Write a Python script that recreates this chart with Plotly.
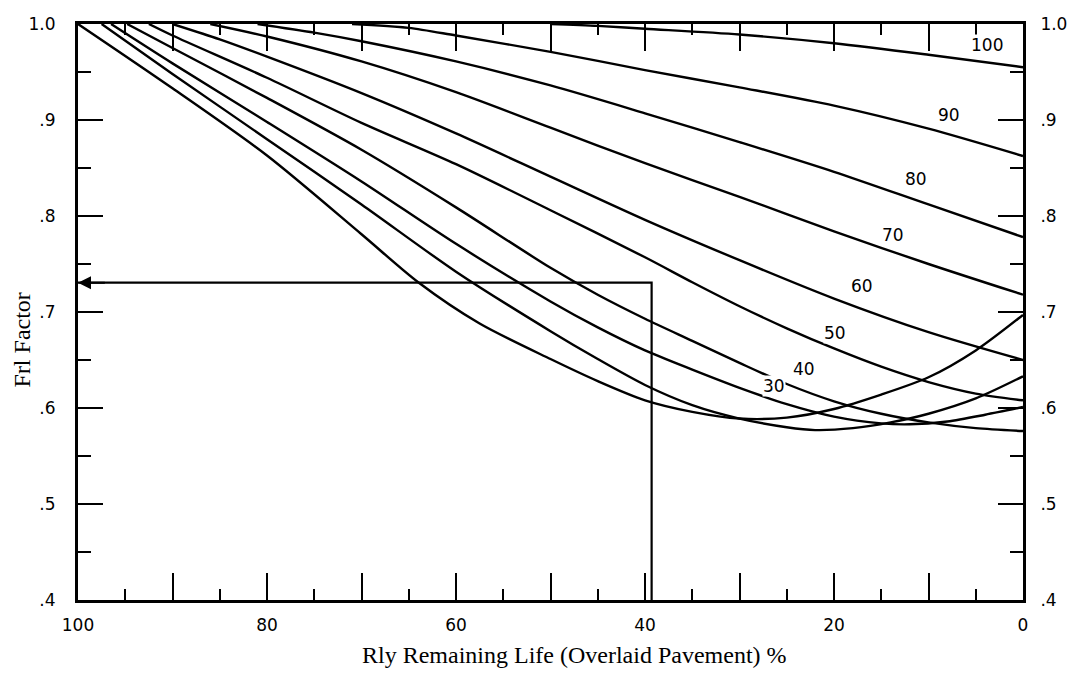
import plotly.graph_objects as go

# ---- data ----
# x: Rly remaining life of overlaid pavement (%), y: Frl factor
c100_x = [50, 45, 40, 30, 20, 10, 0]
c100_y = [1.0, 0.998, 0.995, 0.989, 0.980, 0.968, 0.955]

c90_x = [71, 65, 60, 50, 40, 30, 20, 10, 0]
c90_y = [1.0, 0.996, 0.988, 0.971, 0.952, 0.934, 0.915, 0.891, 0.8625]

c80_x = [81, 75, 70, 60, 50, 40, 30, 20, 10, 0]
c80_y = [1.0, 0.991, 0.982, 0.961, 0.936, 0.907, 0.877, 0.846, 0.812, 0.778]

c70_x = [86, 80, 70, 60, 50, 40, 30, 20, 10, 0]
c70_y = [1.0, 0.987, 0.961, 0.929, 0.892, 0.855, 0.820, 0.784, 0.750, 0.718]

c60_x = [90, 85, 80, 70, 60, 50, 40, 30, 20, 10, 0]
c60_y = [1.0, 0.984, 0.966, 0.928, 0.886, 0.841, 0.796, 0.754, 0.714, 0.679, 0.65]

c50_x = [92.5, 90, 80, 70, 60, 50, 40, 35, 30, 25, 20, 15, 10, 5, 0]
c50_y = [1.0, 0.988, 0.944, 0.897, 0.854, 0.806, 0.757, 0.731, 0.706, 0.683, 0.662, 0.643, 0.627, 0.615, 0.608]

c40_x = [94.8, 90, 80, 70, 60, 50, 45, 40, 35, 30, 25, 20, 15, 10, 5, 0]
c40_y = [1.0, 0.975, 0.923, 0.869, 0.809, 0.746, 0.718, 0.693, 0.670, 0.647, 0.625, 0.607, 0.594, 0.585, 0.579, 0.576]

c30_x = [96.5, 90, 80, 70, 60, 50, 45, 40, 35, 30, 25, 20, 15, 12, 8, 4, 0]
c30_y = [1.0, 0.959, 0.898, 0.836, 0.771, 0.711, 0.684, 0.660, 0.640, 0.621, 0.604, 0.591, 0.584, 0.583, 0.586, 0.593, 0.601]

c20_x = [97.5, 90, 80, 70, 60, 50, 45, 40, 35, 30, 25, 22, 18, 14, 10, 5, 0]
c20_y = [1.0, 0.948, 0.880, 0.812, 0.742, 0.680, 0.651, 0.624, 0.603, 0.589, 0.580, 0.577, 0.579, 0.585, 0.594, 0.610, 0.633]

c10_x = [100, 90, 80, 70, 64, 57.5, 50, 45, 40, 35, 30, 25, 20, 15, 10, 5, 0]
c10_y = [1.0, 0.933, 0.863, 0.781, 0.731, 0.688, 0.651, 0.628, 0.608, 0.596, 0.589, 0.590, 0.599, 0.614, 0.632, 0.660, 0.697]

# example reading lines
read_x = [100, 39.3, 39.3]
read_y = [0.7305, 0.7305, 0.4]

# curve labels (text, x, y)
label_text = ["100", "90", "80", "70", "60", "50", "40", "30"]
label_x = [3.8, 7.8, 11.3, 13.8, 17.0, 19.9, 23.2, 26.4]
label_y = [0.978, 0.905, 0.8385, 0.780, 0.727, 0.678, 0.641, 0.623]

x_tickvals = [100, 80, 60, 40, 20, 0]
x_ticktext = ["100", "80", "60", "40", "20", "0"]
x_mid_tickvals = [90, 70, 50, 30, 10]
y_tickvals = [0.4, 0.5, 0.6, 0.7, 0.8, 0.9, 1.0]
y_ticktext = [".4", ".5", ".6", ".7", ".8", ".9", "1.0"]

x_title = "Rly Remaining Life (Overlaid Pavement) %"
y_title = "Frl Factor"

# ---- figure ----
fig = go.Figure()
curves = [(c100_x, c100_y), (c90_x, c90_y), (c80_x, c80_y), (c70_x, c70_y),
          (c60_x, c60_y), (c50_x, c50_y), (c40_x, c40_y), (c30_x, c30_y),
          (c20_x, c20_y), (c10_x, c10_y)]
for cx, cy in curves:
    fig.add_trace(go.Scatter(x=cx, y=cy, mode="lines",
                             line=dict(color="black", width=2.4, shape="spline", smoothing=0.8),
                             showlegend=False, hoverinfo="skip"))

fig.add_trace(go.Scatter(x=read_x, y=read_y, mode="lines", yaxis="y2",
                         line=dict(color="black", width=2.2),
                         showlegend=False, hoverinfo="skip"))
# invisible trace to carry the second x axis (long ticks at odd tens)
fig.add_trace(go.Scatter(x=[100, 0], y=[None, None], xaxis="x2", mode="lines",
                         showlegend=False, hoverinfo="skip"))

tick_font = dict(family="DejaVu Sans", size=17, color="black")
title_font = dict(family="Liberation Serif", size=24, color="black")

fig.update_layout(
    width=1074, height=678,
    margin=dict(l=78, r=51, t=24, b=78),
    paper_bgcolor="white", plot_bgcolor="white",
    xaxis=dict(range=[100, 0], showgrid=False, zeroline=False,
               showline=True, linewidth=3, linecolor="black", mirror="ticks",
               ticks="inside", ticklen=27, tickwidth=2, tickcolor="black",
               tickmode="array", tickvals=x_tickvals, ticktext=x_ticktext,
               tickfont=tick_font, ticklabelstandoff=8,
               minor=dict(tickmode="linear", tick0=0, dtick=5, ticks="inside",
                          ticklen=11, tickwidth=2, tickcolor="black", showgrid=False)),
    xaxis2=dict(range=[100, 0], overlaying="x", anchor="y", side="bottom",
                showgrid=False, zeroline=False, automargin=False,
                showline=False, mirror="ticks", showticklabels=False,
                ticks="inside", ticklen=27, tickwidth=2, tickcolor="black",
                tickmode="array", tickvals=x_mid_tickvals),
    yaxis=dict(range=[0.4, 1.0], showgrid=False, zeroline=False, automargin=False,
               showline=True, linewidth=3, linecolor="black",
               ticks="inside", ticklen=25, tickwidth=2, tickcolor="black",
               tickmode="array", tickvals=y_tickvals, ticktext=y_ticktext,
               tickfont=tick_font, ticklabelstandoff=16,
               minor=dict(tickmode="linear", tick0=0.4, dtick=0.05, ticks="inside",
                          ticklen=13, tickwidth=2, tickcolor="black", showgrid=False)),
    yaxis2=dict(range=[0.4, 1.0], overlaying="y", side="right", anchor="x",
                showgrid=False, zeroline=False, automargin=False,
                showline=True, linewidth=3, linecolor="black",
                ticks="inside", ticklen=25, tickwidth=2, tickcolor="black",
                tickmode="array", tickvals=y_tickvals, ticktext=y_ticktext,
                tickfont=tick_font, ticklabelstandoff=11,
                minor=dict(tickmode="linear", tick0=0.4, dtick=0.05, ticks="inside",
                           ticklen=13, tickwidth=2, tickcolor="black", showgrid=False)),
)

for t, lx, ly in zip(label_text, label_x, label_y):
    fig.add_annotation(x=lx, y=ly, xref="x", yref="y", text=t, showarrow=False,
                       font=dict(family="DejaVu Sans", size=17, color="black"),
                       bgcolor="white", borderpad=0)

# arrowhead at the left end of the reading line
fig.add_annotation(x=read_x[0], y=read_y[0], xref="x", yref="y",
                   ax=read_x[0] - 3, ay=read_y[0], axref="x", ayref="y",
                   text="", showarrow=True, arrowhead=2, arrowsize=1.3,
                   arrowwidth=2, arrowcolor="black")

fig.add_annotation(x=0.525, y=-0.095, xref="paper", yref="paper", text=x_title,
                   showarrow=False, font=title_font, xanchor="center", yanchor="middle")
fig.add_annotation(x=-0.059, y=0.451, xref="paper", yref="paper", text=y_title,
                   showarrow=False, font=title_font, textangle=-90,
                   xanchor="center", yanchor="middle")

fig.write_html("out.html")
